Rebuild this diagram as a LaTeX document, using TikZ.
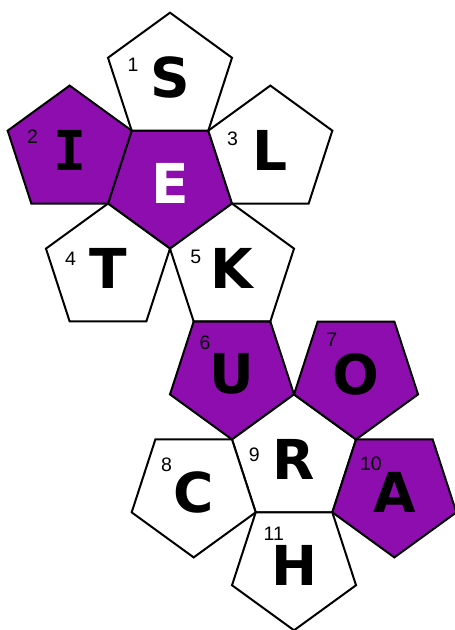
\documentclass[tikz,border=0pt]{standalone}
\usepackage{fontspec}
\setmainfont{Liberation Sans}
\newfontfamily\letterfont{DejaVu Sans}
\newfontfamily\slabfont{DejaVu Sans Mono}
\usetikzlibrary{shapes.geometric,calc}
\definecolor{grape}{HTML}{8E0DAE}

\begin{document}
\begin{tikzpicture}[x=1pt,y=1pt,line width=2pt,
  face/.style={regular polygon,regular polygon sides=5,minimum size=130.4pt,inner sep=0pt,draw=black,fill=white,
    font=\letterfont\bfseries\fontsize{55}{55}\selectfont},
  up/.style={face},
  down/.style={face,shape border rotate=180},
  dark/.style={fill=grape},
  num/.style={inner sep=0pt,font=\fontsize{19.5}{19.5}\selectfont}]
\useasboundingbox (0,0) rectangle (455,630);
\def\gap{105.5}

% top flower
\node[down,dark,text=white] (e) at (170,446.6) {E};
\node[up] (s) at ($(e.center)+(90:\gap)$) {S};
\node[up,dark] (i) at ($(e.center)+(162:\gap)$) {\slabfont I};
\node[up] (l) at ($(e.center)+(18:\gap)$) {L};
\node[up] (t) at ($(e.center)+(234:\gap)$) {T};
\node[up] (k) at ($(e.center)+(306:\gap)$) {K};

% bottom flower
\node[down,dark] (u) at ($(k.center)+(270:\gap)$) {U};
\node[up] (r) at ($(u.center)+(306:\gap)$) {R};
\node[down,dark] (o) at ($(r.center)+(54:\gap)$) {O};
\node[down] (c) at ($(r.center)+(198:\gap)$) {C};
\node[down,dark] (a) at ($(r.center)+(342:\gap)$) {A};
\node[down] (h) at ($(r.center)+(270:\gap)$) {H};

% face numbers
\node[num] (n1) at ($(s.center)+(-37,13.4)$) {1};
\node[num] (n2) at ($(i.center)+(-37.2,14.1)$) {2};
\node[num] (n3) at ($(l.center)+(-37.8,12.5)$) {3};
\node[num] (n4) at ($(t.center)+(-37.5,9.6)$) {4};
\node[num] (n5) at ($(k.center)+(-36.2,11.7)$) {5};
\node[num] (n6) at ($(u.center)+(-27,31.4)$) {6};
\node[num] (n7) at ($(o.center)+(-24.3,34)$) {7};
\node[num] (n8) at ($(c.center)+(-27.2,27.2)$) {8};
\node[num] (n9) at ($(r.center)+(-39.8,4.9)$) {9};
\node[num] (n10) at ($(a.center)+(-23.5,28.4)$) {10};
\node[num] (n11) at ($(h.center)+(-20.3,30.9)$) {11};

\end{tikzpicture}
\end{document}
